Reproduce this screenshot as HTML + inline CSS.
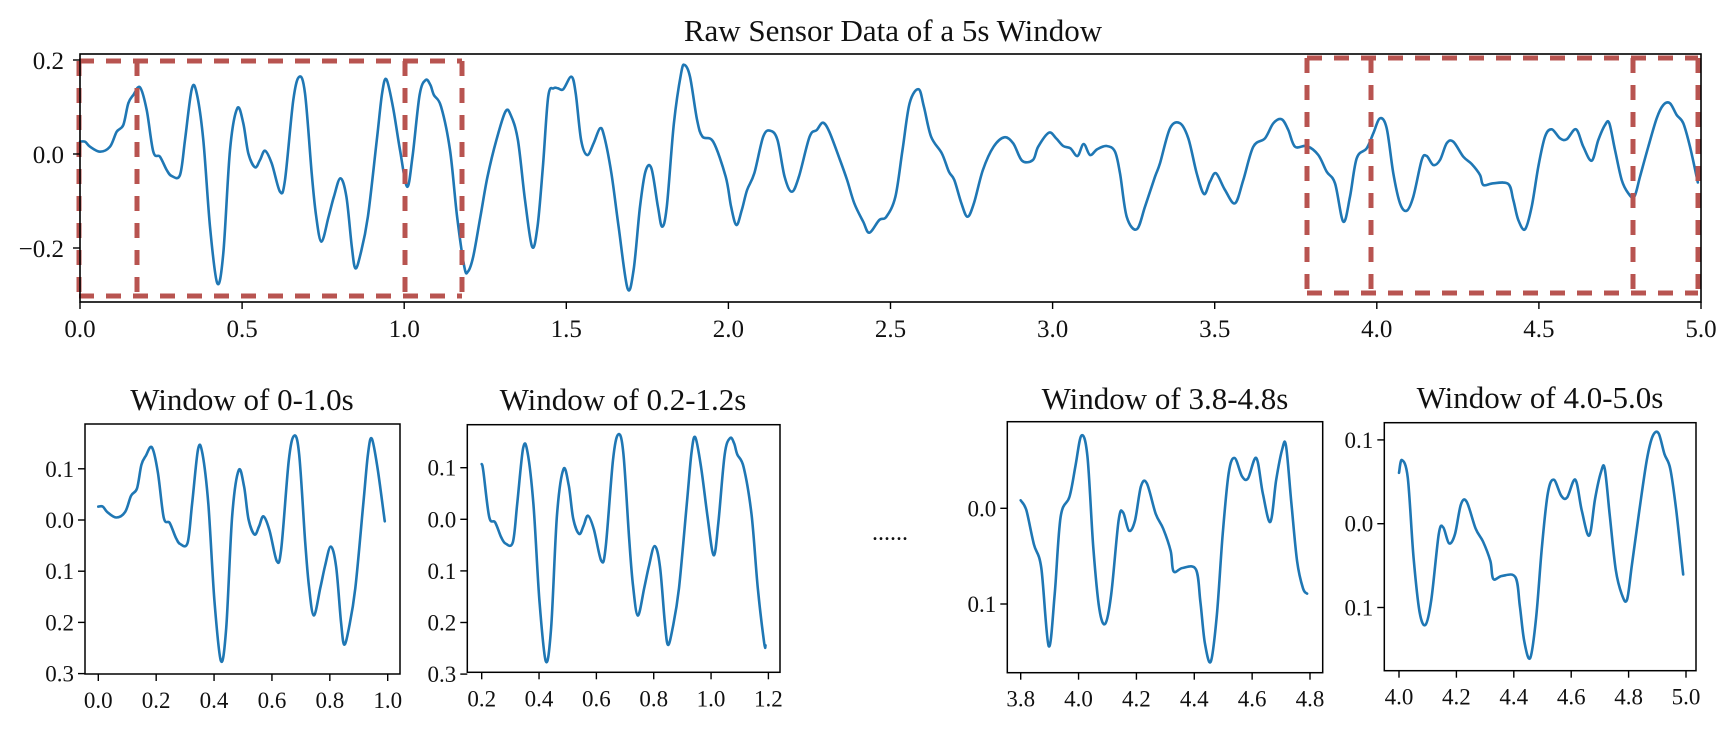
<!DOCTYPE html>
<html><head><meta charset="utf-8"><style>
html,body{margin:0;padding:0;background:#fff;}
svg text{font-family:"Liberation Serif",serif;fill:#111;}
</style></head><body>
<svg id="s" width="1725" height="725" viewBox="0 0 1725 725" xmlns="http://www.w3.org/2000/svg">
<text x="893" y="41" font-size="31" text-anchor="middle">Raw Sensor Data of a 5s Window</text>
<text x="242" y="410" font-size="31" text-anchor="middle">Window of 0-1.0s</text>
<text x="623" y="410" font-size="31" text-anchor="middle">Window of 0.2-1.2s</text>
<text x="1165" y="409" font-size="31" text-anchor="middle">Window of 3.8-4.8s</text>
<text x="1540" y="408" font-size="31" text-anchor="middle">Window of 4.0-5.0s</text>
<text x="890" y="540" font-size="24" text-anchor="middle">......</text>
</svg>
<script>
(function(){
var S=document.getElementById('s'),NS='http://www.w3.org/2000/svg';
function el(n,a,txt){var e=document.createElementNS(NS,n);for(var k in a)e.setAttribute(k,a[k]);if(txt!=null)e.textContent=txt;S.appendChild(e);return e;}
var P=[[80,141.7],[85,141.7],[90,146.7],[100,151.7],[110,146.7],[116.7,131.7],[123.3,125],[128.3,103.3],[133.3,95],[140,87.3],[146.7,110],[153.3,151.7],[160,156.7],[166.7,170],[171.7,176],[180,175],[185,140],[191.7,89.3],[196.7,93.3],[203.3,140],[210,226.7],[217.3,283.3],[223.3,253.3],[230,150],[237.3,108.3],[243.3,123.3],[248.3,153.3],[255,167.3],[260,160],[265,150.7],[271.7,163.3],[280,191.7],[285,180],[293.3,100],[299.3,76.7],[305,93.3],[311.7,173.3],[316,215],[321.4,241.7],[328.6,216.7],[333.9,196.7],[340.4,178.3],[346.4,196.7],[351.8,246.7],[355.4,268.3],[360.7,253.3],[367.9,216.7],[376.8,140],[382.1,93.3],[386.4,79.3],[392.9,106.7],[400,150],[407.1,186.7],[412.5,156.7],[419.6,95],[425.7,80],[430.4,85],[433.9,95],[441.1,106.7],[450,150],[457.1,216.7],[464.3,266.7],[467.9,271.7],[473.2,256.7],[480.4,216.7],[487.5,176.7],[496.4,140],[505.4,111.7],[510.7,115],[517.9,140],[525,200],[532.1,246.7],[537.5,226.7],[542.9,166.7],[548.2,96.7],[553.6,88.3],[557.9,88.3],[563.2,89.3],[571.4,76.7],[575.7,93.3],[581.1,140],[587.1,155],[593.6,143.3],[600,128.3],[604.3,136.7],[611.4,173.3],[618.6,226.7],[627.5,288.3],[633.6,270],[640,206.7],[645.4,171.7],[651.4,168.3],[657.9,206.7],[662.1,226.7],[666.8,206.7],[673.9,123.3],[681.1,73.3],[684.6,65],[690,76.7],[697.1,120],[702.5,136.7],[713.2,141.7],[725.7,176.7],[731.1,206.7],[736.4,225],[741.8,210],[747.1,190],[754.3,173.3],[763.2,136.7],[770.4,130.7],[777.5,140],[784.6,176.7],[791.8,191.7],[798.9,176.7],[809.6,136.7],[816.8,130],[822.9,122.7],[829.3,131.7],[840,160],[847.1,180],[854.3,203.3],[863.2,221.7],[869.3,232.7],[879.3,220],[886.4,216.7],[895.4,196.7],[902.5,150],[909.6,103.3],[918.6,89.3],[923.9,106.7],[931.1,136.7],[941.8,153.3],[948.9,171.7],[954.3,180],[961.4,203.3],[967.5,216.7],[973.9,203.3],[982.9,170],[993.6,146.7],[1004.3,137.3],[1013.2,143.3],[1022.1,160.7],[1032.9,160],[1038.2,146.7],[1048.9,132.7],[1056.1,138.3],[1063.2,146],[1070.4,148.3],[1077.5,156],[1083.6,144],[1090,155],[1097.1,149.3],[1106.7,146],[1115,151.7],[1120,173.3],[1126.7,216.7],[1136.7,229.3],[1145,206.7],[1155,176.7],[1160,163.3],[1170,128.3],[1180,123.3],[1188.3,138.3],[1196.7,173.3],[1204,194],[1210,181.7],[1216,173.3],[1225,190],[1235,203.3],[1243.3,180],[1253.3,146.7],[1265,138.3],[1273.3,123.3],[1281.7,119.3],[1288.3,130],[1295,146.7],[1306.7,146],[1318.3,155],[1326.7,171.7],[1335,183.3],[1343.3,221.7],[1350,196.7],[1356.7,158.3],[1366.7,148.3],[1373.3,133.3],[1380,118.3],[1386.7,128.3],[1393.3,173.3],[1400,203.3],[1406.7,210.7],[1413.3,196.7],[1421.7,160],[1426.7,156],[1433.3,165],[1440,160],[1446.7,143.3],[1453.3,141.7],[1463.3,156.7],[1471.7,164],[1480,175],[1483.3,185],[1493.3,183.3],[1508.3,184],[1513.3,200],[1518.3,220],[1525,229.3],[1531.7,206.7],[1538.3,166.7],[1545,136.7],[1551.7,129.3],[1560,138.3],[1566.7,139.3],[1576,129.3],[1583.3,146.7],[1591.7,160.7],[1598.3,140],[1605,125],[1609.3,123.3],[1615,150],[1621.7,180],[1628.3,193.3],[1634.3,196.7],[1640,176.7],[1648.3,146.7],[1656.7,118.3],[1663.3,105],[1670,103.3],[1676.7,115],[1683.3,123.3],[1690,146.7],[1697.3,180]];
P.sort(function(a,b){return a[0]-b[0];});
var D=P.map(function(p){return [(p[0]-80)/324.2,(154-p[1])/470];});
function interp(t){for(var i=1;i<D.length;i++){if(D[i][0]>=t){var a=D[i-1],b=D[i],f=(t-a[0])/(b[0]-a[0]||1);return [t,a[1]+f*(b[1]-a[1])];}}return D[D.length-1];}
function pathOf(pts){var d='M'+pts[0][0].toFixed(1)+','+pts[0][1].toFixed(1);
for(var i=0;i<pts.length-1;i++){var p0=pts[i-1]||pts[i],p1=pts[i],p2=pts[i+1],p3=pts[i+2]||p2;
var c1x=p1[0]+(p2[0]-p0[0])/6,c1y=p1[1]+(p2[1]-p0[1])/6,c2x=p2[0]-(p3[0]-p1[0])/6,c2y=p2[1]-(p3[1]-p1[1])/6;
d+='C'+c1x.toFixed(1)+','+c1y.toFixed(1)+' '+c2x.toFixed(1)+','+c2y.toFixed(1)+' '+p2[0].toFixed(1)+','+p2[1].toFixed(1);}return d;}
function series(t0,t1,fx,fy,w){var pts=[interp(t0)];D.forEach(function(d){if(d[0]>t0&&d[0]<t1)pts.push(d);});pts.push(interp(t1));
el('path',{d:pathOf(pts.map(function(d){return [fx(d[0]),fy(d[1])];})),fill:'none',stroke:'#1f77b4','stroke-width':w,'stroke-linejoin':'round','stroke-linecap':'round'});}
var tx=function(t){return 80+324.2*t;},ty=function(v){return 154-470*v;};
series(0,4.99,tx,ty,2.6);
var red='#b85450';
function dl(x1,y1,x2,y2){el('line',{x1:x1,y1:y1,x2:x2,y2:y2,stroke:red,'stroke-width':5,'stroke-dasharray':'15 12'});}
dl(79,61,462,61);dl(79,296,462,296);
[79,137,405,462].forEach(function(x){dl(x,61,x,296);});
dl(1307,58,1698,58);dl(1307,293,1698,293);
[1307,1371,1633,1698].forEach(function(x){dl(x,58,x,293);});
el('rect',{x:80,y:54,width:1621,height:248,fill:'none',stroke:'#000','stroke-width':1.6});
[[0.2,'0.2'],[0,'0.0'],[-0.2,'\u22120.2']].forEach(function(a){var y=ty(a[0]);el('line',{x1:73,y1:y,x2:80,y2:y,stroke:'#000','stroke-width':1.4});el('text',{x:64,y:y+9,'font-size':25,'text-anchor':'end'},a[1]);});
for(var i=0;i<=10;i++){var t=i*0.5,x=tx(t);el('line',{x1:x,y1:302,x2:x,y2:309,stroke:'#000','stroke-width':1.4});el('text',{x:x,y:337,'font-size':25,'text-anchor':'middle'},t.toFixed(1));}
var panels=[
 {t0:0,t1:0.99,fx:function(t){return 98.3+289.4*t;},fy:function(v){return 520-512*v;},fr:[85,424,400,674],yt:[[0.1,'0.1'],[0,'0.0'],[-0.1,'0.1'],[-0.2,'0.2'],[-0.3,'0.3']],xt:[0,0.2,0.4,0.6,0.8,1.0]},
 {t0:0.2,t1:1.19,fx:function(t){return 481.7+286.7*(t-0.2);},fy:function(v){return 519.3-516*v;},fr:[467.3,424.7,780,672.3],yt:[[0.1,'0.1'],[0,'0.0'],[-0.1,'0.1'],[-0.2,'0.2'],[-0.3,'0.3']],xt:[0.2,0.4,0.6,0.8,1.0,1.2]},
 {t0:3.8,t1:4.79,fx:function(t){return 1020.7+289.3*(t-3.8);},fy:function(v){return 508.3-957*v;},fr:[1007.3,421.7,1322.7,672.7],yt:[[0,'0.0'],[-0.1,'0.1']],xt:[3.8,4.0,4.2,4.4,4.6,4.8]},
 {t0:4.0,t1:4.99,fx:function(t){return 1399+287*(t-4.0);},fy:function(v){return 523.7-838*v;},fr:[1384.3,422.7,1696,670.7],yt:[[0.1,'0.1'],[0,'0.0'],[-0.1,'0.1']],xt:[4.0,4.2,4.4,4.6,4.8,5.0]}
];
panels.forEach(function(p){
 series(p.t0,p.t1,p.fx,p.fy,2.6);
 var f=p.fr;
 el('rect',{x:f[0],y:f[1],width:f[2]-f[0],height:f[3]-f[1],fill:'none',stroke:'#000','stroke-width':1.5});
 p.yt.forEach(function(a){var y=p.fy(a[0]);el('line',{x1:f[0]-7,y1:y,x2:f[0],y2:y,stroke:'#000','stroke-width':1.4});el('text',{x:f[0]-11,y:y+8,'font-size':23,'text-anchor':'end'},a[1]);});
 p.xt.forEach(function(t){var x=p.fx(t);el('line',{x1:x,y1:f[3],x2:x,y2:f[3]+7,stroke:'#000','stroke-width':1.4});el('text',{x:x,y:f[3]+34,'font-size':23,'text-anchor':'middle'},t.toFixed(1));});
});
})();
</script>
</body></html>
